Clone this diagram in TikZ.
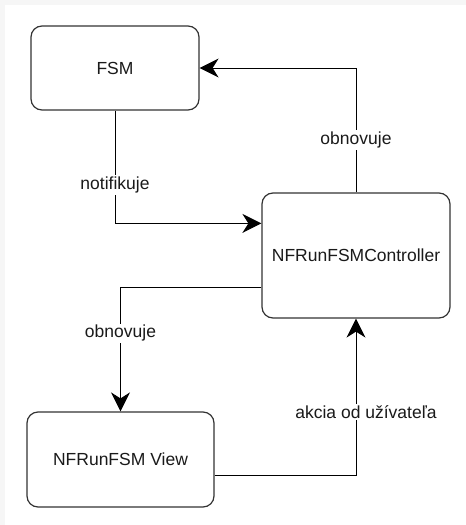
\documentclass[tikz,border=0pt]{standalone}
\usepackage{fontspec}
\setmainfont{Liberation Sans}
\usetikzlibrary{arrows.meta, positioning, calc}
\definecolor{ink}{HTML}{000000}
\definecolor{textc}{HTML}{1A1A1A}
\definecolor{margin}{HTML}{F6F6F6}
\tikzset{
  font=\fontsize{17.5}{21}\selectfont,
  >={Stealth[length=19pt, width=19pt, inset=6pt]},
  %
  state/.style={
    draw=ink!80, line width=1.2pt, fill=white, rounded corners=11pt,
    inner sep=0pt, align=center, text=textc,
  },
  %
  flow/.style={draw=ink, line width=1pt, ->},
  lbl/.style={fill=white, inner sep=1.5pt, text=textc},
}

\begin{document}
\begin{tikzpicture}[x=1pt, y=-1pt]

  % ---- canvas -----------------------------------------------------------
  \fill[margin] (0,0) rectangle (466,525);
  \fill[white] (5,5) rectangle (466,525);
  \useasboundingbox (0,0) rectangle (466,525);

  % ---- states -----------------------------------------------------------
  \node[state, minimum width=168pt, minimum height=84pt]  (fsm)  at (115,68)    {FSM};
  \node[state, minimum width=188pt, minimum height=125pt] (ctrl) at (356,255.5) {NFRunFSMController};
  \node[state, minimum width=187pt, minimum height=95pt]  (view) at (120.5,459.5) {NFRunFSM View};

  % ---- transitions ------------------------------------------------------
  \draw[flow] (ctrl.north) |- (fsm.east)
    node[lbl, pos=0.21] (updfsm) {obnovuje};
  \draw[flow] (fsm.south) |- ([yshift=-31pt]ctrl.north west)
    node[lbl, pos=0.33] (notify) {notifikuje};
  \draw[flow] ([yshift=31pt]ctrl.south west) -| (view.north)
    node[lbl, pos=0.685] (updview) {obnovuje};
  \draw[flow] ([yshift=-15.5pt]view.east) -| (ctrl.south)
    node[lbl, pos=0.7, xshift=10pt] (action) {akcia od užívateľa};

\end{tikzpicture}
\end{document}
